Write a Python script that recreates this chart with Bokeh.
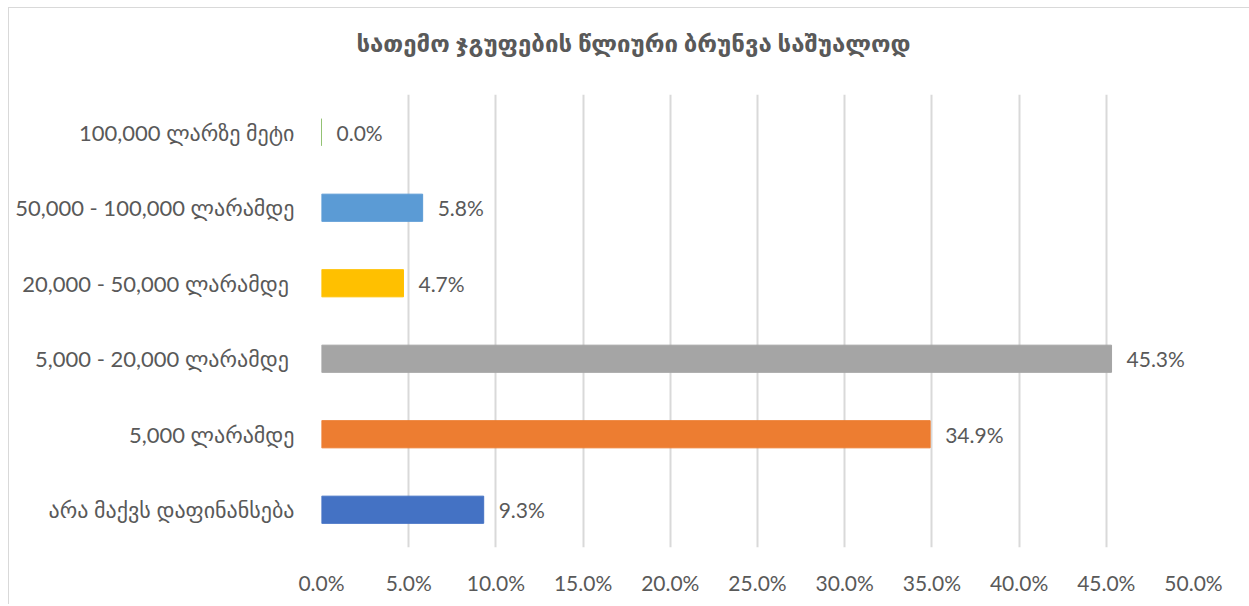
from bokeh.plotting import figure
from bokeh.models import ColumnDataSource, FactorRange, Range1d, FixedTicker, LabelSet, Div
from bokeh.layouts import column
from bokeh.core.properties import value
from bokeh.embed import file_html
from bokeh.resources import INLINE

# ---- data ----
categories = [
    "არა მაქვს დაფინანსება",
    "5,000 ლარამდე",
    "5,000 - 20,000 ლარამდე ",
    "20,000 - 50,000 ლარამდე ",
    "50,000 - 100,000 ლარამდე",
    "100,000 ლარზე მეტი",
]
values = [9.3, 34.9, 45.3, 4.7, 5.8, 0.0]
colors = ["#4472C4", "#ED7D31", "#A5A5A5", "#FFC000", "#5B9BD5", "#70AD47"]
x_ticks = [0, 5, 10, 15, 20, 25, 30, 35, 40, 45, 50]
title_text = "სათემო ჯგუფების წლიური ბრუნვა საშუალოდ"

FONT = "Lato, DejaVu Sans"
GREY = "#595959"

src = ColumnDataSource(dict(
    cat=categories,
    val=values,
    color=colors,
    label=[f"{v:.1f}%" for v in values],
))

W = 1239
TITLE_H = 76
H = 510

title_div = Div(
    text=title_text, width=W, height=TITLE_H,
    styles={"text-align": "center", "padding-top": "15px", "line-height": "30px",
            "font-family": "Lato, 'DejaVu Sans'", "font-size": "24px", "font-weight": "bold",
            "color": GREY, "box-sizing": "border-box", "width": f"{W}px",
            "background-color": "white"},
)

p = figure(
    width=W, height=H,
    y_range=FactorRange(factors=categories, range_padding=0),
    x_range=Range1d(0, 50),
    output_backend="svg", toolbar_location=None,
    min_border_left=312, min_border_right=55,
    min_border_top=0, min_border_bottom=57,
)
p.outline_line_color = None
p.border_fill_color = "white"
p.background_fill_color = "white"

p.hbar(y="cat", right="val", left=0, height=0.36, color="color", source=src)

labels = LabelSet(x="val", y="cat", text="label", source=src,
                  x_offset=15, text_align="left", text_baseline="middle",
                  text_font=value(FONT), text_font_size="21px", text_color=GREY)
p.add_layout(labels)

# x axis
p.xaxis.ticker = FixedTicker(ticks=x_ticks)
p.xaxis.major_label_overrides = {t: f"{t:.1f}%" for t in x_ticks}
p.xaxis.axis_line_color = None
p.xaxis.major_tick_line_color = None
p.xaxis.minor_tick_line_color = None
p.xaxis.major_label_standoff = 16
p.xaxis.major_label_text_font = FONT
p.xaxis.major_label_text_font_size = "21px"
p.xaxis.major_label_text_color = GREY

# y axis
p.yaxis.axis_line_color = None
p.yaxis.major_tick_line_color = None
p.yaxis.minor_tick_line_color = None
p.yaxis.major_label_standoff = 21
p.yaxis.major_label_text_font = FONT
p.yaxis.major_label_text_font_size = "22px"
p.yaxis.major_label_text_color = GREY

p.ygrid.grid_line_color = None
p.xgrid.grid_line_color = "#D9D9D9"
p.xgrid.grid_line_width = 2

layout = column(title_div, p, spacing=0,
                styles={"margin-left": "8px", "margin-top": "7px",
                        "border-left": "1px solid #D9D9D9", "border-top": "1px solid #D9D9D9"})

open("out.html", "w").write(file_html(layout, INLINE))
